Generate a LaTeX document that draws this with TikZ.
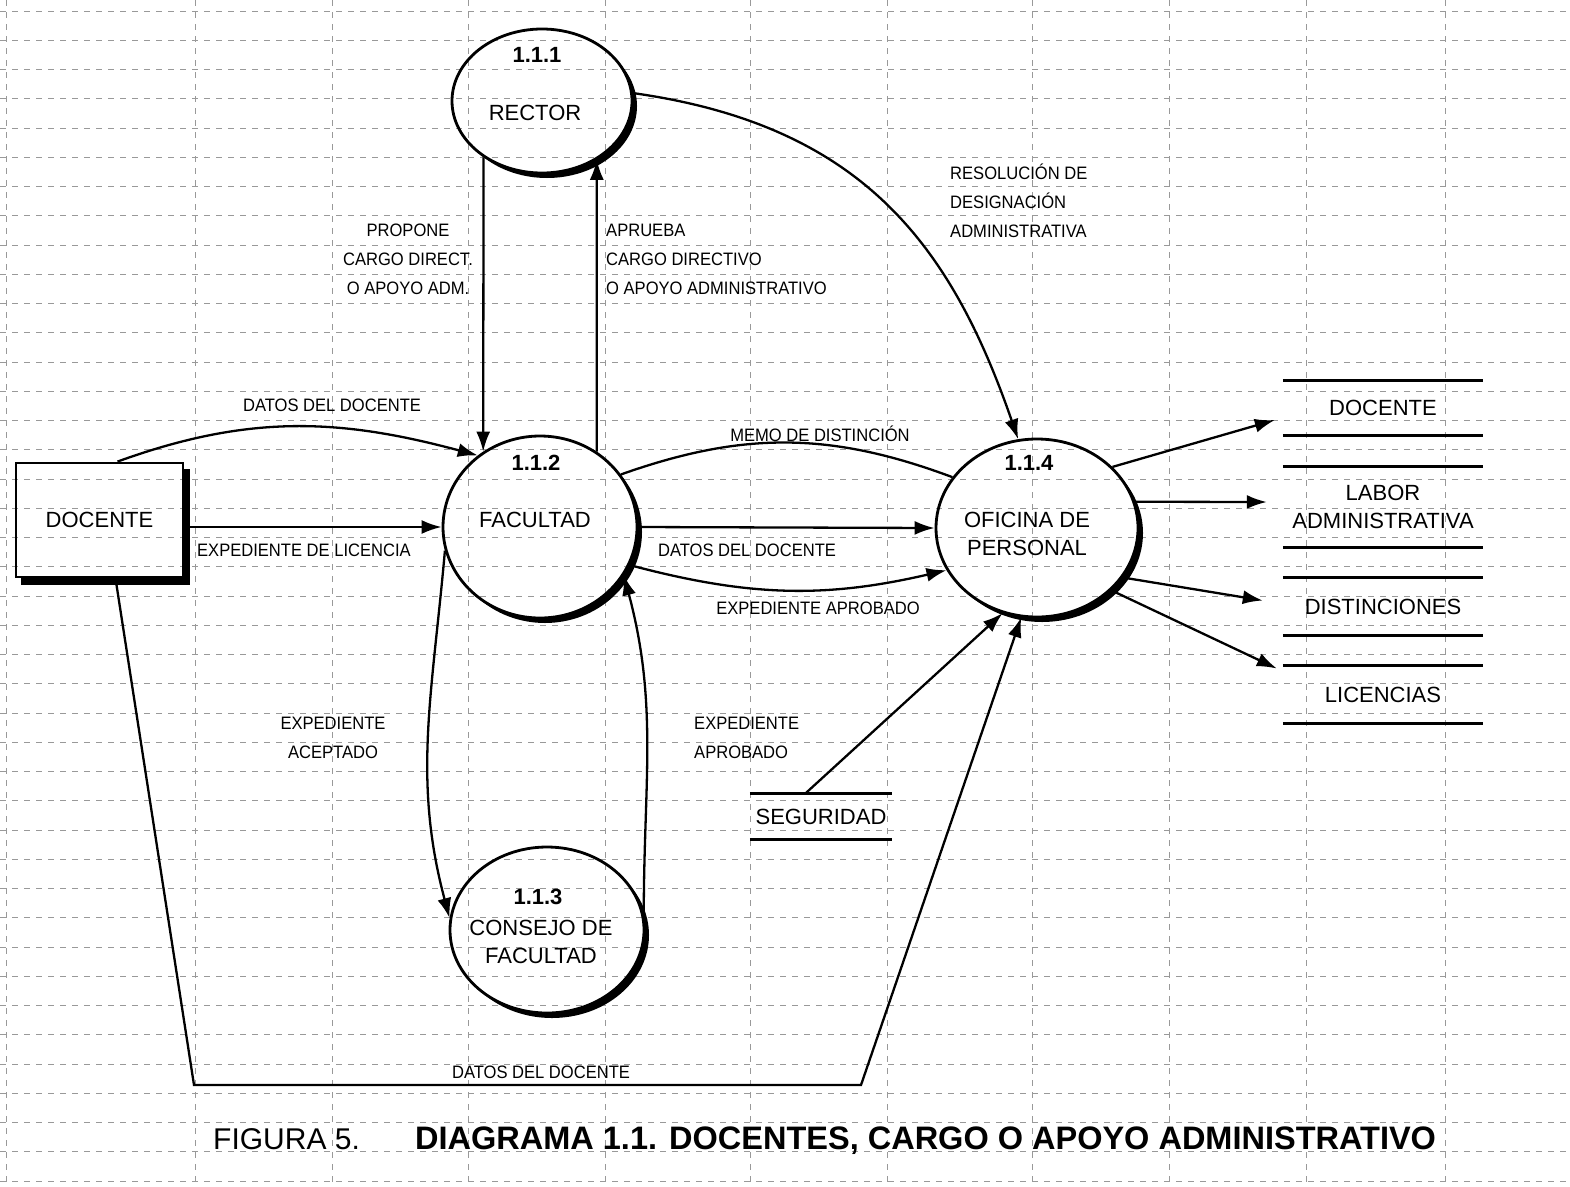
\documentclass[tikz,border=0pt]{standalone}
\usepackage{fontspec}
\setmainfont{Liberation Sans}
\newfontfamily\narrowfont[FakeStretch=0.92]{Liberation Sans}
\usepackage{tikz}
\usetikzlibrary{arrows.meta, shapes.geometric}

\begin{document}
\begin{tikzpicture}[x=1pt, y=-1pt,
    every node/.style={font=\fontsize{22}{28}\selectfont, inner sep=0pt},
    proc/.style={ellipse, draw, line width=2.8pt},
    num/.style={font=\fontsize{22}{28}\selectfont\bfseries},
    store/.style={minimum width=200, align=center},
    storeline/.style={line width=2.8pt},
    lbl/.style={font=\narrowfont\fontsize{18}{29}\selectfont, align=center},
    flow/.style={line width=2.3pt, -{Latex[length=20pt, width=14pt]}},
    sheetline/.style={black!40, line width=0.7pt, dash pattern=on 6pt off 6pt}]
      \useasboundingbox (0,0) rectangle (1570,1186);
      \foreach \x in {6,195,332,468,605,750,887,1032,1169,1306,1445}
        \draw[sheetline] (\x,0) -- (\x,1186);
      \foreach \k in {0,...,40}
        \draw[sheetline] (0,11+29.25*\k) -- (1570,11+29.25*\k);

      \node[proc, minimum width=180, minimum height=144] (rector) at (542,101) {};
      \node[proc, minimum width=194, minimum height=182] (facultad) at (540,527) {};
      \node[proc, minimum width=194, minimum height=166] (consejo) at (547,930) {};
      \node[proc, minimum width=202, minimum height=178] (oficina) at (1037,528) {};
      \fill ([shift={(5,5)}]rector.center) ++(-45:90 and 72) arc[start angle=-45, end angle=135, x radius=90, y radius=72]
        -- ++(-5,-5) arc[start angle=135, end angle=-45, x radius=90, y radius=72] -- cycle;
      \fill ([shift={(5,5)}]facultad.center) ++(-45:97 and 91) arc[start angle=-45, end angle=135, x radius=97, y radius=91]
        -- ++(-5,-5) arc[start angle=135, end angle=-45, x radius=97, y radius=91] -- cycle;
      \fill ([shift={(5,5)}]consejo.center) ++(-45:97 and 83) arc[start angle=-45, end angle=135, x radius=97, y radius=83]
        -- ++(-5,-5) arc[start angle=135, end angle=-45, x radius=97, y radius=83] -- cycle;
      \fill ([shift={(5,5)}]oficina.center) ++(-45:101 and 89) arc[start angle=-45, end angle=135, x radius=101, y radius=89]
        -- ++(-5,-5) arc[start angle=135, end angle=-45, x radius=101, y radius=89] -- cycle;

      \node[num] (rectornum) at (537,55) {1.1.1};
      \node (rectorname) at (535,113) {RECTOR};
      \node[num] (facnum) at (536,463) {1.1.2};
      \node (facname) at (535,520) {FACULTAD};
      \node[num] (connum) at (538,897) {1.1.3};
      \node[align=center] (conname) at (541,942) {CONSEJO DE\\FACULTAD};
      \node[num] (ofinum) at (1029,463) {1.1.4};
      \node[align=center] (ofiname) at (1027,534) {OFICINA DE\\PERSONAL};

      \node[draw, line width=2.8pt, minimum width=167, minimum height=114] (docente) at (99.5,520) {DOCENTE};
      \fill ([shift={(0,7)}]docente.north east) rectangle ([shift={(6,7)}]docente.south east);
      \fill ([shift={(6,0)}]docente.south west) rectangle ([shift={(6,7)}]docente.south east);

      \node[store, minimum height=54] (sdoc) at (1383,408) {DOCENTE};
      \node[store, minimum height=80] (slab) at (1383,507) {LABOR\\ADMINISTRATIVA};
      \node[store, minimum height=57] (sdis) at (1383,606.5) {DISTINCIONES};
      \node[store, minimum height=57] (slic) at (1383,694.5) {LICENCIAS};
      \node[store, minimum width=142, minimum height=45] (seguridad) at (821,816.5) {SEGURIDAD};
      \foreach \s in {sdoc, slab, sdis, slic, seguridad}
        \draw[storeline] (\s.north west) -- (\s.north east) (\s.south west) -- (\s.south east);

      \draw[flow] (rector.224) -- (facultad.127);
      \draw[flow] (facultad.53) -- (rector.-47);
      \draw[flow] (rector.5) .. controls (860,125) and (950,242) .. (oficina.102);
      \draw[flow] ([xshift=18pt]docente.north) to[out=20, in=165] (facultad.131);
      \draw[flow] (docente.east |- facultad.west) -- (facultad.west);
      \draw[line width=2.3pt] (facultad.33) to[bend left=20] (oficina.149);
      \draw[flow] (facultad.east) -- (oficina.west);
      \draw[flow] (facultad.-23) to[bend right=14] (oficina.205);
      \draw[flow] (facultad.194) to[out=265, in=105] (consejo.173);
      \draw[flow] (consejo.9) to[out=90, in=-75] (facultad.-30);
      \draw[flow] ([xshift=-16pt]seguridad.north) -- (oficina.248);
      \coordinate (bl) at (194,1085);
      \coordinate (br) at (861,1085);
      \draw[flow] ([xshift=16pt]docente.south) -- (bl) -- (br) -- (oficina.260);
      \draw[flow] (oficina.39) -- ([shift={(-8,12)}]sdoc.west);
      \draw[flow] (oficina.15) -- ([shift={(-16,-5)}]slab.west);
      \draw[flow] (oficina.-30) -- ([shift={(-20,-6)}]sdis.west);
      \draw[flow] (oficina.-40) -- ([shift={(-6,-26)}]slic.west);

      \node[lbl] (l1) at (332,405) {DATOS DEL DOCENTE};
      \node[lbl, anchor=west] (l2) at (197,550) {EXPEDIENTE DE LICENCIA};
      \node[lbl] (l3) at (408,259) {PROPONE\\CARGO DIRECT.\\O APOYO ADM.};
      \node[lbl, align=left, anchor=west] (l4) at (606,259) {APRUEBA\\CARGO DIRECTIVO\\O APOYO ADMINISTRATIVO};
      \node[lbl, align=left, anchor=west] (l5) at (950,201) {RESOLUCIÓN DE\\DESIGNACIÓN\\ADMINISTRATIVA};
      \node[lbl] (l6) at (820,434) {MEMO DE DISTINCIÓN};
      \node[lbl] (l7) at (747,550) {DATOS DEL DOCENTE};
      \node[lbl] (l8) at (818,608) {EXPEDIENTE APROBADO};
      \node[lbl] (l9) at (333,738) {EXPEDIENTE\\ACEPTADO};
      \node[lbl, align=left, anchor=west] (l10) at (694,738) {EXPEDIENTE\\APROBADO};
      \node[lbl] (l11) at (541,1072) {DATOS DEL DOCENTE};

      \node[font=\fontsize{30}{36}\selectfont, anchor=base west] (fig) at (213,1149) {FIGURA 5.};
      \node[font=\fontsize{32.5}{36}\selectfont\bfseries, anchor=base west] (title) at (415,1149)
        {DIAGRAMA 1.1. DOCENTES, CARGO O APOYO ADMINISTRATIVO};
    \end{tikzpicture}
\end{document}
